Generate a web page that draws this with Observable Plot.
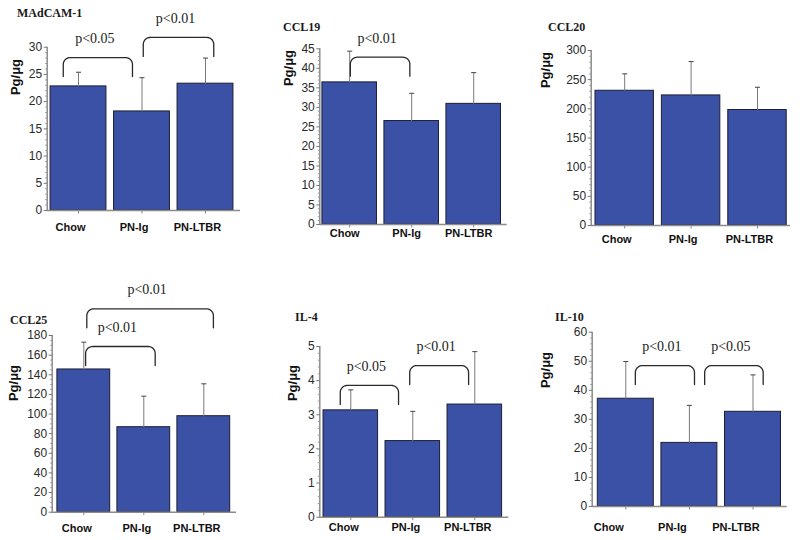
<!DOCTYPE html>
<html><head><meta charset="utf-8">
<script src="https://cdn.jsdelivr.net/npm/d3@7"></script>
<script src="https://cdn.jsdelivr.net/npm/@observablehq/plot@0.6"></script>
<style>
body{margin:0;background:#fff;}
#fig{position:relative;width:800px;height:540px;overflow:hidden;background:#fff;}
.panel{position:absolute;}
.title{position:absolute;font-family:"Liberation Serif","Times New Roman",serif;font-weight:bold;font-size:12px;color:#1a1a1a;line-height:1;transform:translateY(-50%);white-space:nowrap;}
.ylab{position:absolute;font-family:"Liberation Sans",Arial,sans-serif;font-weight:bold;font-size:13px;color:#111;line-height:1;transform:translate(-50%,-50%) rotate(-90deg);white-space:nowrap;}
</style></head><body><div id="fig"></div>
<script>
// ---------- data ----------
const groups = ["Chow", "PN-Ig", "PN-LTBR"];
const yLabel = "Pg/μg";

const madcamMean = [22.8, 18.2, 23.3];
const madcamSD = [2.6, 6.2, 4.7];
const madcamTicks = [0, 5, 10, 15, 20, 25, 30];
const madcamBrackets = [
  {x1: -0.24, x2: 0.85, level: 28.1, label: "p<0.05"},
  {x1: 1.02, x2: 2.13, level: 31.8, label: "p<0.01"}
];

const ccl19Mean = [36.4, 26.5, 30.9];
const ccl19SD = [8.0, 7.1, 8.0];
const ccl19Ticks = [0, 5, 10, 15, 20, 25, 30, 35, 40, 45];
const ccl19Brackets = [
  {x1: 0.01, x2: 0.97, level: 42.85, label: "p<0.01"}
];

const ccl20Mean = [231, 223, 198];
const ccl20SD = [29, 58, 39];
const ccl20Ticks = [0, 50, 100, 150, 200, 250, 300];
const ccl20Brackets = [];

const ccl25Mean = [145.4, 86.6, 97.8];
const ccl25SD = [27.8, 31.6, 33.0];
const ccl25Ticks = [0, 20, 40, 60, 80, 100, 120, 140, 160, 180];
const ccl25Brackets = [
  {x1: 0.03, x2: 1.19, level: 168.8, label: "p<0.01"},
  {x1: 0.05, x2: 2.16, level: 207.2, label: "p<0.01"}
];

const il4Mean = [3.13, 2.23, 3.30];
const il4SD = [0.60, 0.87, 1.55];
const il4Ticks = [0, 1, 2, 3, 4, 5];
const il4Brackets = [
  {x1: -0.17, x2: 0.77, level: 3.86, label: "p<0.05"},
  {x1: 0.95, x2: 1.90, level: 4.44, label: "p<0.01"}
];

const il10Mean = [37.1, 21.9, 32.6];
const il10SD = [12.8, 12.9, 12.7];
const il10Ticks = [0, 10, 20, 30, 40, 50, 60];
const il10Brackets = [
  {x1: 0.15, x2: 1.08, level: 48.5, label: "p<0.01"},
  {x1: 1.24, x2: 2.16, level: 48.5, label: "p<0.05"}
];

const panels = [
  {title: "MAdCAM-1", mean: madcamMean, sd: madcamSD, ticks: madcamTicks, minor: 1, brackets: madcamBrackets},
  {title: "CCL19", mean: ccl19Mean, sd: ccl19SD, ticks: ccl19Ticks, minor: 1, brackets: ccl19Brackets},
  {title: "CCL20", mean: ccl20Mean, sd: ccl20SD, ticks: ccl20Ticks, minor: 10, brackets: ccl20Brackets},
  {title: "CCL25", mean: ccl25Mean, sd: ccl25SD, ticks: ccl25Ticks, minor: 5, brackets: ccl25Brackets},
  {title: "IL-4", mean: il4Mean, sd: il4SD, ticks: il4Ticks, minor: 0.2, brackets: il4Brackets},
  {title: "IL-10", mean: il10Mean, sd: il10SD, ticks: il10Ticks, minor: 2, brackets: il10Brackets}
];

// ---------- layout (page pixels) ----------
const layout = [
  {left: 0,   top: 0,   w: 265, h: 250, axisX: 46.7,  xEnd: 240,   center0: 78,    spacing: 63.5, yTop: 46.7,  yBottom: 210,   labelDy: 17,   labelDx: -8,  title: [17, 13],   ylab: [15, 77]},
  {left: 270, top: 0,   w: 260, h: 250, axisX: 319.3, xEnd: 506.7, center0: 349.2, spacing: 62,   yTop: 48.3,  yBottom: 224,   labelDy: 9,    labelDx: -5,  title: [283, 27],  ylab: [288, 68]},
  {left: 530, top: 0,   w: 270, h: 250, axisX: 590.7, xEnd: 790,   center0: 624.2, spacing: 66.4, yTop: 50,    yBottom: 225,   labelDy: 14,   labelDx: -8,  title: [548, 27],  ylab: [545, 70]},
  {left: 0,   top: 270, w: 265, h: 270, axisX: 51.7,  xEnd: 236,   center0: 83.3,  spacing: 60,   yTop: 335,   yBottom: 511.7, labelDy: 16.6, labelDx: -7,  title: [10, 320],  ylab: [13.3, 383]},
  {left: 270, top: 270, w: 260, h: 270, axisX: 319.3, xEnd: 508.3, center0: 350.3, spacing: 62,   yTop: 346,   yBottom: 516.7, labelDy: 10,   labelDx: -7,  title: [295, 317], ylab: [291.7, 383]},
  {left: 530, top: 270, w: 270, h: 270, axisX: 591.7, xEnd: 786.7, center0: 625.3, spacing: 63.6, yTop: 331.7, yBottom: 506,   labelDy: 20.7, labelDx: -17, title: [555, 317], ylab: [545, 370]}
];

const fig = document.getElementById("fig");
const sans = "'Liberation Sans', Arial, sans-serif";
const serif = "'Liberation Serif', 'Times New Roman', serif";

function bracketPoints(b, k, L, pxPerUnit) {
  const r = 7, rx = r / L.spacing, ry = r / pxPerUnit, drop = 19 / pxPerUnit;
  const pts = [{id: k, x: b.x1, y: b.level - drop}];
  const n = 10;
  for (let t = 0; t <= n; t++) {
    const a = Math.PI - (Math.PI / 2) * (t / n);
    pts.push({id: k, x: b.x1 + rx + rx * Math.cos(a), y: b.level - ry + ry * Math.sin(a)});
  }
  for (let t = 0; t <= n; t++) {
    const a = Math.PI / 2 - (Math.PI / 2) * (t / n);
    pts.push({id: k, x: b.x2 - rx + rx * Math.cos(a), y: b.level - ry + ry * Math.sin(a)});
  }
  pts.push({id: k, x: b.x2, y: b.level - drop});
  return pts;
}

panels.forEach((P, pi) => {
  const L = layout[pi];
  const max = P.ticks[P.ticks.length - 1];
  const pxPerUnit = (L.yBottom - L.yTop) / max;
  const xd = [(L.axisX - L.center0) / L.spacing, (L.xEnd - L.center0) / L.spacing];
  const rows = groups.map((g, i) => ({group: g, i, mean: P.mean[i], sd: P.sd[i]}));
  const minorTicks = d3.range(0, max + 1e-9, P.minor).filter(v => !P.ticks.some(t => Math.abs(t - v) < 1e-9));
  const bpts = P.brackets.flatMap((b, k) => bracketPoints(b, k, L, pxPerUnit));
  const cap = 2.5 / L.spacing;
  const majorLen = 3.5 / L.spacing;
  const minorLen = 2 / L.spacing;
  const xTickLen = 3 / pxPerUnit;

  const chart = Plot.plot({
    width: L.w,
    height: L.h,
    marginLeft: L.axisX - L.left,
    marginRight: L.left + L.w - L.xEnd,
    marginTop: L.yTop - L.top,
    marginBottom: L.top + L.h - L.yBottom,
    style: {fontFamily: sans, fontSize: "12px", color: "#222", background: "transparent", overflow: "visible"},
    x: {domain: xd, axis: null},
    y: {domain: [0, max], axis: null},
    marks: [
      Plot.rectY(rows, {x1: d => d.i - 0.44, x2: d => d.i + 0.44, y1: 0, y2: "mean", fill: "#3a51a6", stroke: "#1d1f33", strokeWidth: 1}),
      Plot.link(rows, {x1: "i", x2: "i", y1: "mean", y2: d => d.mean + d.sd, stroke: "#7a7a7a", strokeWidth: 1}),
      Plot.link(rows, {x1: d => d.i - cap, x2: d => d.i + cap, y1: d => d.mean + d.sd, y2: d => d.mean + d.sd, stroke: "#444", strokeWidth: 1}),
      Plot.ruleX([xd[0]], {stroke: "#8c8c8c", strokeWidth: 1.5}),
      Plot.ruleY([0], {stroke: "#8c8c8c", strokeWidth: 1.5}),
      // y-axis ticks (major & minor) and labels
      Plot.link(P.ticks, {x1: xd[0] - majorLen, x2: xd[0], y1: d => d, y2: d => d, stroke: "#777", strokeWidth: 1}),
      Plot.link(minorTicks, {x1: xd[0] - minorLen, x2: xd[0], y1: d => d, y2: d => d, stroke: "#9a9a9a", strokeWidth: 1}),
      Plot.text(P.ticks, {x: xd[0], y: d => d, dx: -5, text: d => String(d), textAnchor: "end", fontSize: 12, fontFamily: sans, fill: "#2a2a2a"}),
      // x-axis ticks and labels
      Plot.link(groups, {x1: (d, i) => i, x2: (d, i) => i, y1: 0, y2: -xTickLen, stroke: "#888", strokeWidth: 1}),
      Plot.text(groups, {x: (d, i) => i, y: () => 0, dx: L.labelDx, dy: L.labelDy, text: d => d, fontWeight: "bold", fontSize: 11, fontFamily: sans, fill: "#111"}),
      // significance brackets
      Plot.line(bpts, {x: "x", y: "y", z: "id", stroke: "#2a2a2a", strokeWidth: 1.3}),
      Plot.text(P.brackets, {x: d => (d.x1 + d.x2) / 2, y: "level", dy: -19, dx: -3, text: "label", fontFamily: serif, fontSize: 14, fill: "#222"})
    ]
  });
  const wrap = document.createElement("div");
  wrap.className = "panel";
  wrap.style.left = L.left + "px";
  wrap.style.top = L.top + "px";
  wrap.appendChild(chart);
  fig.appendChild(wrap);

  const t = document.createElement("div");
  t.className = "title";
  t.textContent = P.title;
  t.style.left = L.title[0] + "px";
  t.style.top = L.title[1] + "px";
  fig.appendChild(t);

  const yl = document.createElement("div");
  yl.className = "ylab";
  yl.textContent = yLabel;
  yl.style.left = L.ylab[0] + "px";
  yl.style.top = L.ylab[1] + "px";
  fig.appendChild(yl);
});
</script>
</body></html>
